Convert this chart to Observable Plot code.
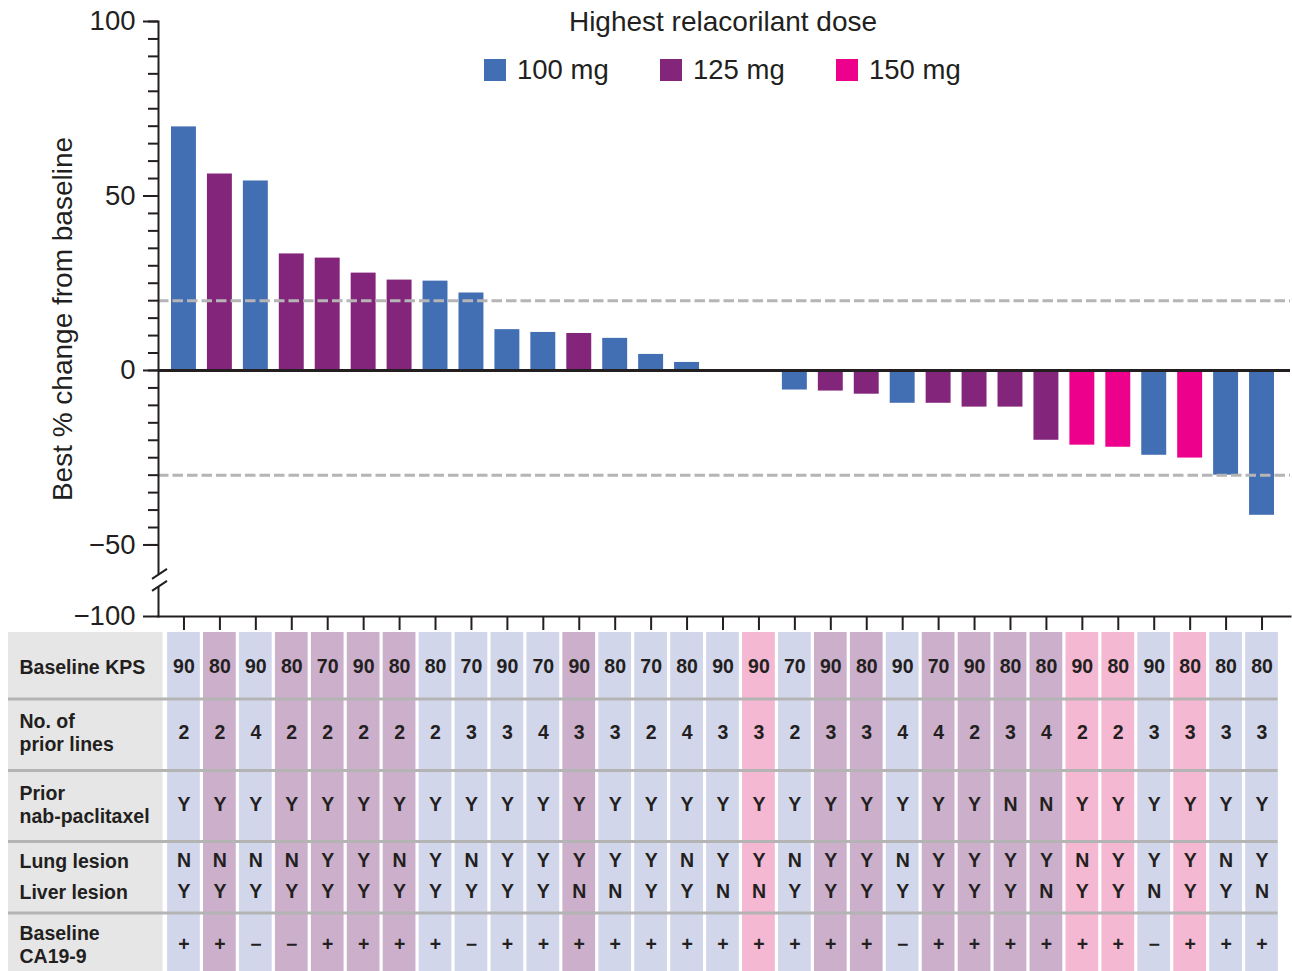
<!DOCTYPE html>
<html>
<head>
<meta charset="utf-8">
<script src="https://cdn.jsdelivr.net/npm/d3@7"></script>
<script src="https://cdn.jsdelivr.net/npm/@observablehq/plot@0.6"></script>
<style>
  body { margin: 0; background: #fff; }
  #wrap { position: relative; width: 1292px; height: 971px; overflow: hidden; background: #fff;
          font-family: "Liberation Sans", Arial, Helvetica, sans-serif; color: #231f20; }
  #wrap > svg { display: block; }
  #title { position: absolute; left: 473px; width: 500px; top: 8px; text-align: center;
           font-size: 28px; line-height: 28px; color: #231f20; }
  #legend { position: absolute; left: 484px; top: 54px; }
  .dose-swatches { margin: 0 !important; min-height: 0 !important; height: 30px; }
  .dose-swatch { margin-right: 0 !important; width: 176px; }
  .dose-swatch > svg { margin-right: 11px !important; }
</style>
</head>
<body>
<div id="wrap">
  <div id="title">Highest relacorilant dose</div>
  <div id="legend"></div>
</div>
<script>
const FONT = '"Liberation Sans", Arial, Helvetica, sans-serif';
const INK = "#231f20";

// ---------- data ----------
const patientIds = [1,2,3,4,5,6,7,8,9,10,11,12,13,14,15,16,17,18,19,20,21,22,23,24,25,26,27,28,29,30,31];
const doseLevels = ["100 mg", "125 mg", "150 mg"];
const doseColors = ["#426eb4", "#83267b", "#ec008c"];
const doseTints  = ["#d2d6eb", "#cbafcb", "#f4b8d2"];
const dose = ["100 mg","125 mg","100 mg","125 mg","125 mg","125 mg","125 mg","100 mg","100 mg","100 mg",
              "100 mg","125 mg","100 mg","100 mg","100 mg","100 mg","150 mg","100 mg","125 mg","125 mg",
              "100 mg","125 mg","125 mg","125 mg","125 mg","150 mg","150 mg","100 mg","150 mg","100 mg","100 mg"];
const bestChange = [69.8, 56.3, 54.3, 33.4, 32.2, 27.9, 25.9, 25.6, 22.2, 11.7,
                    10.9, 10.6, 9.2, 4.6, 2.3, 0, 0, -5.6, -5.9, -6.8,
                    -9.4, -9.4, -10.5, -10.5, -20.0, -21.4, -22.0, -24.3, -25.1, -30.0, -41.5];
const thresholds = [20, -30];
const kps = [90,80,90,80,70,90,80,80,70,90,70,90,80,70,80,90,90,70,90,80,90,70,90,80,80,90,80,90,80,80,80];
const priorLines = [2,2,4,2,2,2,2,2,3,3,4,3,3,2,4,3,3,2,3,3,4,4,2,3,4,2,2,3,3,3,3];
const priorNab = ["Y","Y","Y","Y","Y","Y","Y","Y","Y","Y","Y","Y","Y","Y","Y","Y","Y","Y","Y","Y","Y","Y","Y","N","N","Y","Y","Y","Y","Y","Y"];
const lungLesion = ["N","N","N","N","Y","Y","N","Y","N","Y","Y","Y","Y","Y","N","Y","Y","N","Y","Y","N","Y","Y","Y","Y","N","Y","Y","Y","N","Y"];
const liverLesion = ["Y","Y","Y","Y","Y","Y","Y","Y","Y","Y","Y","N","N","Y","Y","N","N","Y","Y","Y","Y","Y","Y","Y","N","Y","Y","N","Y","Y","N"];
const ca199 = ["+","+","−","−","+","+","+","+","−","+","+","+","+","+","+","+","+","+","+","+","−","+","+","+","+","+","+","−","+","+","+"];
const rowLabels = ["Baseline KPS", "No. of\nprior lines", "Prior\nnab-paclitaxel", "Lung lesion", "Liver lesion", "Baseline\nCA19-9"];
const rowValues = [kps, priorLines, priorNab, lungLesion, liverLesion, ca199];
const yMajorTicks = [100, 50, 0, -50, -100];
const yMinorTicks = d3.range(-50, 101, 5);

const patients = patientIds.map((id, i) => ({id, dose: dose[i], change: bestChange[i]}));

// ---------- layout ----------
const W = 1292;
const X_RANGE = [165.5, 1279.5];
const pitch = (X_RANGE[1] - X_RANGE[0]) / patientIds.length;
const labelLeft = 0.5 - (X_RANGE[0] - 8) / pitch;
const Y_BOTTOM = -70.5;        // axis is broken: the -100 tick sits at the bottom of the frame
const BREAK_AT = -60;
const axisPos = v => v === -100 ? Y_BOTTOM : v;
const rowTextY = [34, 100, 172, 228, 259, 312];
const separatorY = [66.5, 138, 209, 280.5];
const fmt = d => d < 0 ? "\u2212" + Math.abs(d) : String(d);

// break symbols on the y axis
const breakGap = {draw(c) { c.moveTo(-3, -3.3); c.lineTo(3, -7.3); c.lineTo(3, 4.7); c.lineTo(-3, 8.7); c.closePath(); }};
const breakSlashes = {draw(c) { c.moveTo(-6.5, -1); c.lineTo(8.5, -11); c.moveTo(-6.5, 11); c.lineTo(8.5, 1); }};

const chart = Plot.plot({
  width: W, height: 632,
  marginLeft: 158, marginRight: 2, marginTop: 21, marginBottom: 16,
  style: {fontFamily: FONT, color: INK, background: "transparent", overflow: "visible"},
  x: {type: "linear", domain: [0.5, 31.5], range: X_RANGE},
  y: {type: "linear", domain: [Y_BOTTOM, 100]},
  color: {domain: doseLevels, range: doseColors},
  marks: [
    Plot.rect(patients, {x1: d => d.id - 0.5, x2: d => d.id + 0.5, y1: 0, y2: "change", fill: "dose", insetLeft: 5.5, insetRight: 5.5}),
    Plot.ruleY(thresholds, {stroke: "#b5b5b5", strokeWidth: 3, strokeDasharray: "10.5,4"}),
    Plot.ruleY([0], {stroke: INK, strokeWidth: 3}),
    Plot.frame({anchor: "left", stroke: INK, strokeWidth: 2}),
    Plot.frame({anchor: "bottom", stroke: INK, strokeWidth: 2}),
    Plot.axisY(yMinorTicks, {tickSize: 10, tickFormat: () => "", strokeWidth: 2, stroke: INK, label: null}),
    Plot.axisY(yMajorTicks.map(axisPos), {tickSize: 15, tickPadding: 8, tickFormat: v => fmt(v === Y_BOTTOM ? -100 : v),
      fontSize: 27.5, strokeWidth: 2, stroke: INK, fill: INK, label: null}),
    Plot.axisX(patientIds, {tickSize: 14, tickFormat: () => "", strokeWidth: 2, stroke: INK, label: null}),
    Plot.dot([BREAK_AT], {y: d => d, frameAnchor: "left", symbol: breakGap, fill: "white", stroke: null}),
    Plot.dot([BREAK_AT], {y: d => d, frameAnchor: "left", symbol: breakSlashes, fill: "none", stroke: INK, strokeWidth: 2}),
    Plot.text(["Best % change from baseline"], {frameAnchor: "left", textAnchor: "middle", rotate: -90, dx: -95, fontSize: 28, fill: INK})
  ]
});

const table = Plot.plot({
  width: W, height: 339,
  margin: 0,
  style: {fontFamily: FONT, color: INK, background: "transparent"},
  x: {type: "linear", domain: [0.5, 31.5], range: X_RANGE, axis: null},
  y: {type: "identity", axis: null},
  color: {domain: doseLevels, range: doseTints},
  marks: [
    Plot.rect([0], {x1: labelLeft, x2: 0.5, y1: 0, y2: 339, fill: "#e6e6e6", insetRight: 3}),
    Plot.rect(patients, {x1: d => d.id - 0.5, x2: d => d.id + 0.5, y1: 0, y2: 339, fill: "dose", insetLeft: 1.6, insetRight: 1.6}),
    Plot.ruleY(separatorY, {x1: labelLeft, x2: 31.5, insetRight: 2, stroke: "#b4b4b4", strokeWidth: 3}),
    Plot.text(rowLabels, {x: labelLeft, y: (d, i) => rowTextY[i], text: d => d, textAnchor: "start", dx: 11,
      fontSize: 19.5, fontWeight: "bold", lineHeight: 1.18, fill: INK}),
    ...rowValues.map((vals, r) => Plot.text(patients, {x: "id", y: () => rowTextY[r], text: (d, i) => String(vals[i]),
      fontSize: 19.5, fontWeight: "bold", fill: INK}))
  ]
});

const wrap = document.getElementById("wrap");
wrap.appendChild(chart);
wrap.appendChild(table);

const legend = Plot.legend({
  color: {domain: doseLevels, range: doseColors},
  legend: "swatches", swatchSize: 22, className: "dose",
  style: {fontSize: "27.5px", fontFamily: FONT, color: INK}
});
document.getElementById("legend").appendChild(legend);
</script>
</body>
</html>
